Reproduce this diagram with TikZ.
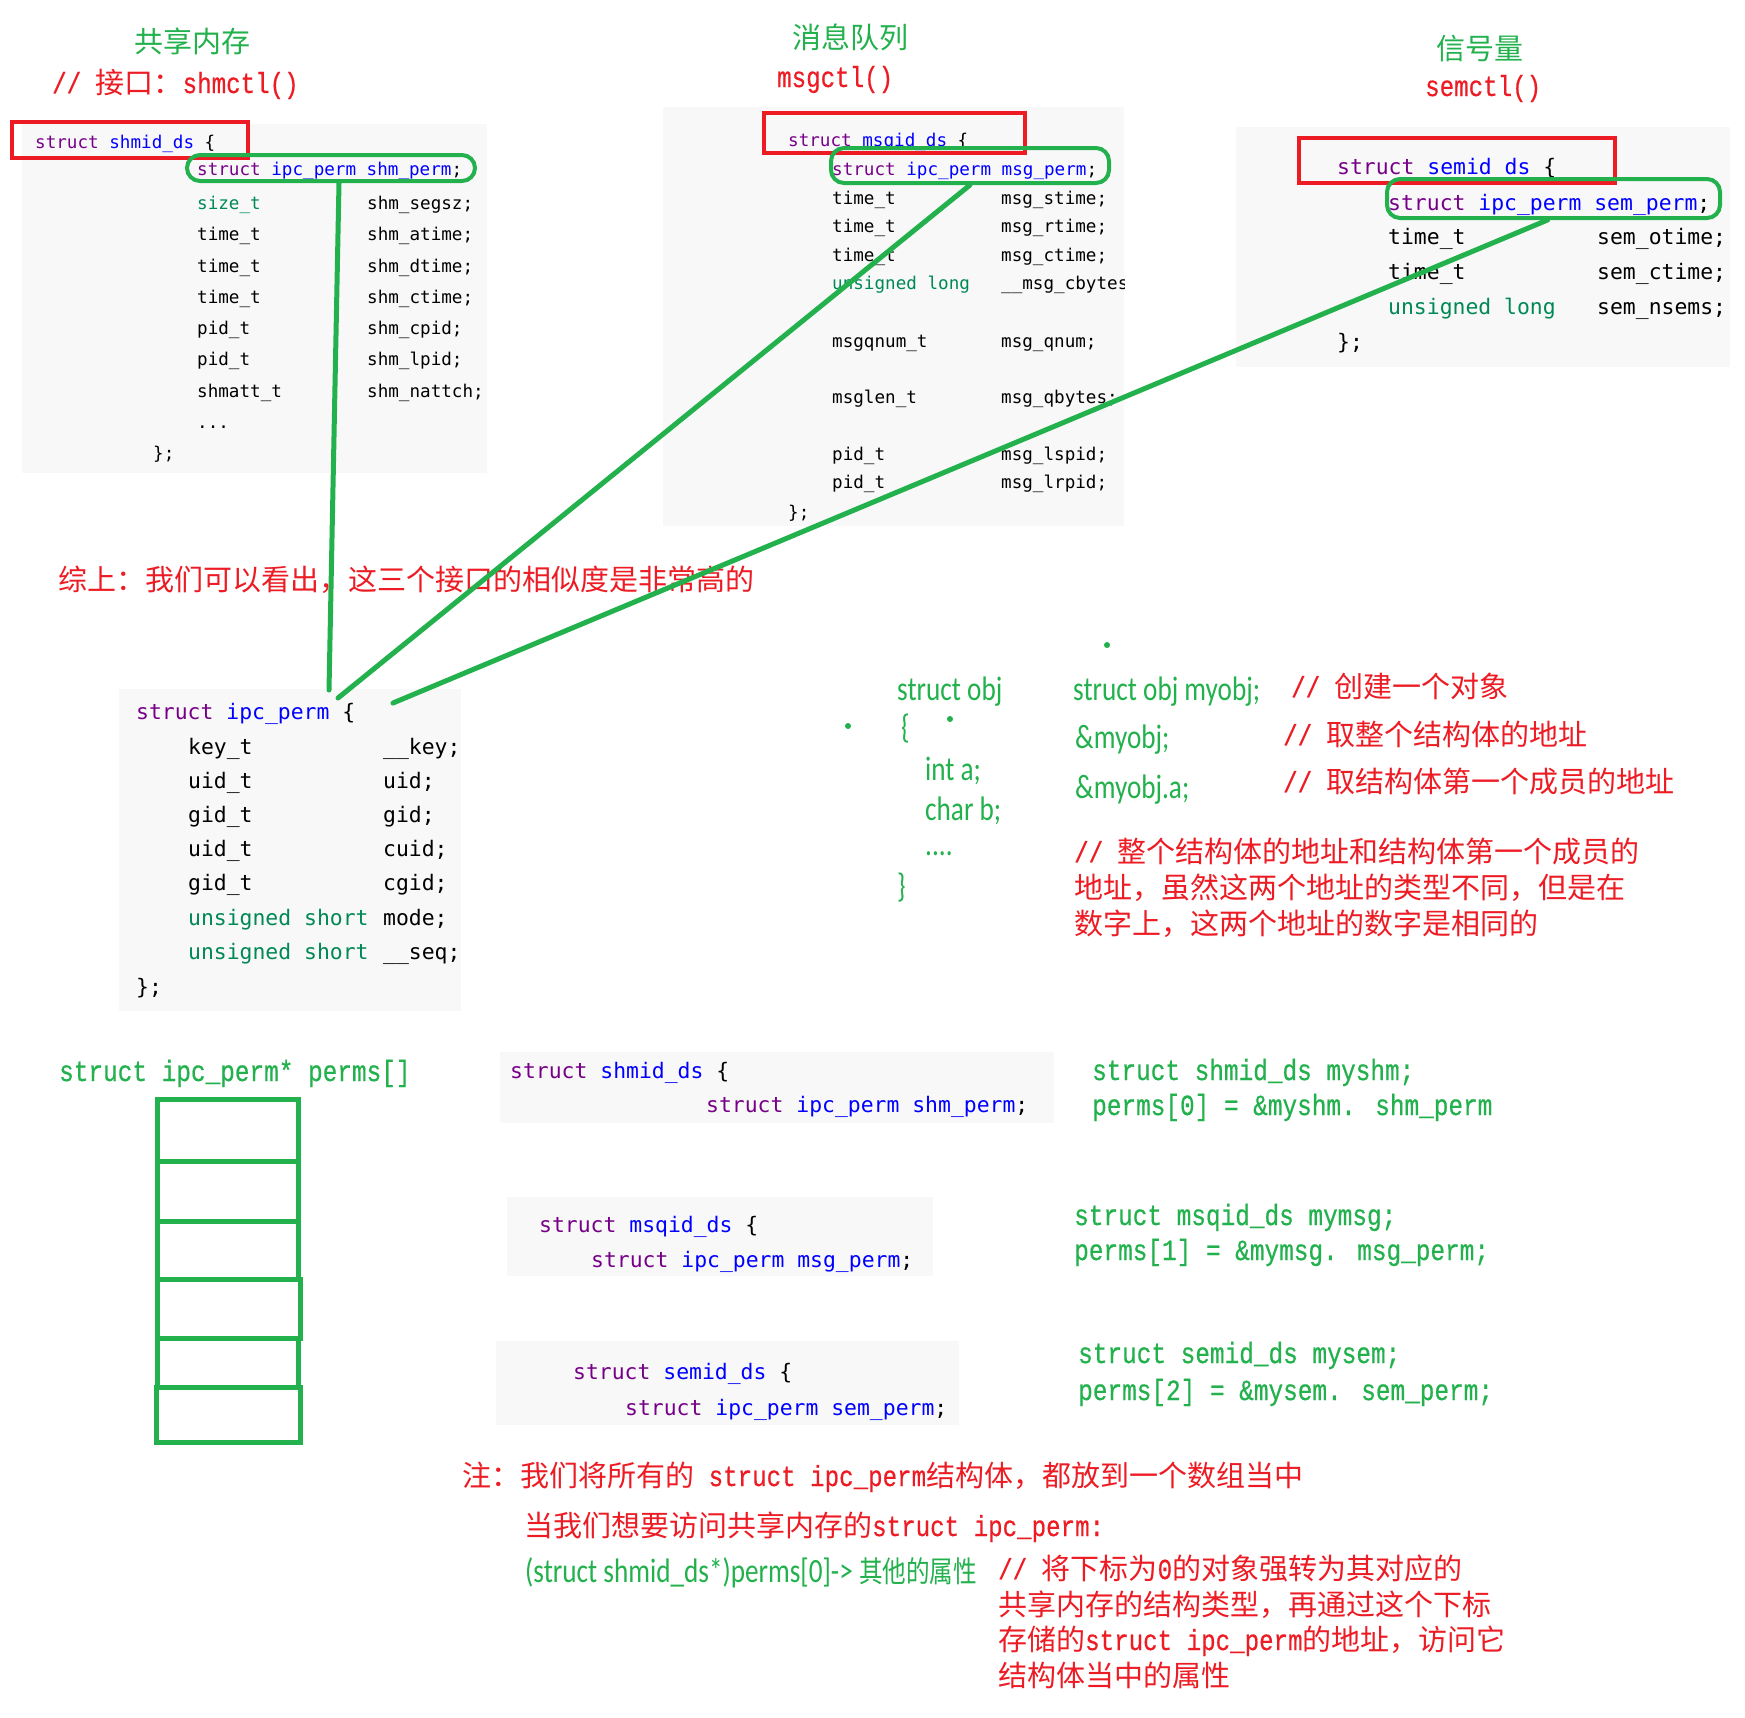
\documentclass[tikz,border=0pt]{standalone}
\usepackage{fontspec}
\usepackage{graphicx}
\usetikzlibrary{calc}
\newfontfamily\cjk{Noto Sans CJK SC}
\newfontfamily\smono{Liberation Mono}[Scale=0.833,FakeBold=0.5]
\newfontfamily\gmono{Liberation Mono}[FakeBold=0.6]
\newfontfamily\dmono{DejaVu Sans Mono}
\newfontfamily\carl{Carlito}
\definecolor{pgreen}{RGB}{34,177,76}
\definecolor{pred}{RGB}{237,28,36}
\definecolor{codebg}{RGB}{248,248,248}
\definecolor{kwc}{RGB}{119,0,136}
\definecolor{tyc}{RGB}{0,0,255}
\definecolor{tlcol}{RGB}{0,136,85}
\definecolor{txc}{RGB}{0,0,0}
\newcommand\ckw[1]{\textcolor{kwc}{#1}}
\newcommand\cty[1]{\textcolor{tyc}{#1}}
\newcommand\ctl[1]{\textcolor{tlcol}{#1}}
\newcommand\zhfont{\fontsize{29}{35}\cjk}
\newcommand\codeS{\fontsize{17.6}{21}\dmono}
\newcommand\codeL{\fontsize{21.4}{26}\dmono}
\newcommand\gmfont{\fontsize{24.4}{29}\gmono}
\newcommand\gmv[1]{\scalebox{1}[1.2]{#1}}
\newcommand\sm[1]{\scalebox{1}[1.2]{\smono #1}}
\newcommand\calib[1]{\scalebox{0.8}[1]{\fontsize{34}{40}\carl #1}}
\tikzset{
  txt/.style={inner sep=0pt, anchor=base west},
  redt/.style={txt, text=pred, font=\zhfont},
  grnt/.style={txt, text=pgreen, font=\zhfont},
  codes/.style={txt, text=txc, font=\codeS},
  codel/.style={txt, text=txc, font=\codeL},
  gmt/.style={txt, text=pgreen, font=\gmfont},
  calt/.style={txt, text=pgreen},
  redbox/.style={draw=pred, line width=4.5pt, inner sep=0pt},
  grnbox/.style={draw=pgreen, line width=4pt, rounded corners=13pt, inner sep=0pt},
  linkline/.style={draw=pgreen, line width=5pt, line cap=round},
  cellbox/.style={draw=pgreen, line width=5pt},
  bgfill/.style={fill=codebg},
}
\begin{document}
\begin{tikzpicture}[x=1pt,y=-1pt]
\fill[white] (0,0) rectangle (1745,1717);
\useasboundingbox (0,0) rectangle (1745,1717);

% ---------- top-left: shared memory ----------
\fill[bgfill] (22,124) rectangle (487,473);
\node[grnt] (tshm) at (134,52) {共享内存};
\node[redt] (ishm) at (52,93) {\sm{//\ }接口：\sm{shmctl()}};
\node[codes] (s0) at (35,148) {\ckw{struct} \cty{shmid\_ds} \{};
\node[codes] (s1) at (197,175.5) {\ckw{struct} \cty{ipc\_perm} \cty{shm\_perm};};
\node[codes] (s2a) at (197,209) {\ctl{size\_t}};
\node[codes] (s2b) at (367,209) {shm\_segsz;};
\node[codes] (s3a) at (197,240) {time\_t};
\node[codes] (s3b) at (367,240) {shm\_atime;};
\node[codes] (s4a) at (197,272) {time\_t};
\node[codes] (s4b) at (367,272) {shm\_dtime;};
\node[codes] (s5a) at (197,303) {time\_t};
\node[codes] (s5b) at (367,303) {shm\_ctime;};
\node[codes] (s6a) at (197,334) {pid\_t};
\node[codes] (s6b) at (367,334) {shm\_cpid;};
\node[codes] (s7a) at (197,365) {pid\_t};
\node[codes] (s7b) at (367,365) {shm\_lpid;};
\node[codes] (s8a) at (197,397) {shmatt\_t};
\node[codes] (s8b) at (367,397) {shm\_nattch;};
\node[codes] (s9) at (197,428) {...};
\node[codes] (s10) at (153,459) {\};};

% ---------- top-middle: message queue ----------
\fill[bgfill] (663,107) rectangle (1124,526);
\node[grnt] (tmsg) at (792,48) {消息队列};
\node[redt] (imsg) at (777,87) {\sm{msgctl()}};
\node[codes] (m0) at (788,146) {\ckw{struct} \cty{msqid\_ds} \{};
\node[codes] (m1) at (832,175) {\ckw{struct} \cty{ipc\_perm} \cty{msg\_perm};};
\node[codes] (m2a) at (832,204) {time\_t};
\node[codes] (m2b) at (1001,204) {msg\_stime;};
\node[codes] (m3a) at (832,232) {time\_t};
\node[codes] (m3b) at (1001,232) {msg\_rtime;};
\node[codes] (m4a) at (832,261) {time\_t};
\node[codes] (m4b) at (1001,261) {msg\_ctime;};
\node[codes] (m5a) at (832,289) {\ctl{unsigned long}};
\begin{scope}
\clip (663,107) rectangle (1124,526);
\node[codes] (m5b) at (1001,289) {\_\_msg\_cbytes;};
\end{scope}
\node[codes] (m6a) at (832,347) {msgqnum\_t};
\node[codes] (m6b) at (1001,347) {msg\_qnum;};
\node[codes] (m7a) at (832,403) {msglen\_t};
\node[codes] (m7b) at (1001,403) {msg\_qbytes;};
\node[codes] (m8a) at (832,460) {pid\_t};
\node[codes] (m8b) at (1001,460) {msg\_lspid;};
\node[codes] (m9a) at (832,488) {pid\_t};
\node[codes] (m9b) at (1001,488) {msg\_lrpid;};
\node[codes] (m10) at (788,518) {\};};

% ---------- top-right: semaphore ----------
\fill[bgfill] (1236,127) rectangle (1730,367);
\node[grnt] (tsem) at (1436,59) {信号量};
\node[redt] (isem) at (1425,96) {\sm{semctl()}};
\node[codel] (e0) at (1337,174.5) {\ckw{struct} \cty{semid\_ds} \{};
\node[codel] (e1) at (1388,210.5) {\ckw{struct} \cty{ipc\_perm} \cty{sem\_perm};};
\node[codel] (e2a) at (1388,244.5) {time\_t};
\node[codel] (e2b) at (1597,244.5) {sem\_otime;};
\node[codel] (e3a) at (1388,279.5) {time\_t};
\node[codel] (e3b) at (1597,279.5) {sem\_ctime;};
\node[codel] (e4a) at (1388,314.5) {\ctl{unsigned long}};
\node[codel] (e4b) at (1597,314.5) {sem\_nsems;};
\node[codel] (e5) at (1337,349.5) {\};};

% ---------- summary ----------
\node[redt] (summary) at (58,590) {综上：我们可以看出，这三个接口的相似度是非常高的};

% ---------- ipc_perm ----------
\fill[bgfill] (119,689) rectangle (461,1011);
\node[codel] (p0) at (136,719.5) {\ckw{struct} \cty{ipc\_perm} \{};
\node[codel] (p1a) at (188,754.5) {key\_t};
\node[codel] (p1b) at (383,754.5) {\_\_key;};
\node[codel] (p2a) at (188,788.5) {uid\_t};
\node[codel] (p2b) at (383,788.5) {uid;};
\node[codel] (p3a) at (188,822.5) {gid\_t};
\node[codel] (p3b) at (383,822.5) {gid;};
\node[codel] (p4a) at (188,856.5) {uid\_t};
\node[codel] (p4b) at (383,856.5) {cuid;};
\node[codel] (p5a) at (188,890.5) {gid\_t};
\node[codel] (p5b) at (383,890.5) {cgid;};
\node[codel] (p6a) at (188,925.5) {\ctl{unsigned short}};
\node[codel] (p6b) at (383,925.5) {mode;};
\node[codel] (p7a) at (188,959.5) {\ctl{unsigned short}};
\node[codel] (p7b) at (383,959.5) {\_\_seq;};
\node[codel] (p8) at (136,994.5) {\};};

% ---------- struct obj ----------
\fill[pgreen] (1107,645) circle (3pt);
\fill[pgreen] (848,726) circle (3pt);
\fill[pgreen] (950,719) circle (3pt);
\node[calt] (o1) at (897,700) {\calib{struct obj}};
\node[calt] (o2) at (901,738) {\calib{\{}};
\node[calt] (o3) at (925,780) {\calib{int a;}};
\node[calt] (o4) at (925,820) {\calib{char b;}};
\node[calt] (o5) at (925,855) {\calib{....}};
\node[calt] (o6) at (897,897) {\calib{\}}};
\node[calt] (o7) at (1073,700) {\calib{struct obj myobj;}};
\node[calt] (o8) at (1075,748) {\calib{\&myobj;}};
\node[calt] (o9) at (1075,798) {\calib{\&myobj.a;}};
\node[redt] (r1) at (1291,697) {\sm{//\ }创建一个对象};
\node[redt] (r2) at (1283,745) {\sm{//\ }取整个结构体的地址};
\node[redt] (r3) at (1283,792) {\sm{//\ }取结构体第一个成员的地址};
\node[redt] (r4) at (1074,862) {\sm{//\ }整个结构体的地址和结构体第一个成员的};
\node[redt] (r5) at (1074,898) {地址，虽然这两个地址的类型不同，但是在};
\node[redt] (r6) at (1074,934) {数字上，这两个地址的数字是相同的};

% ---------- perms array ----------
\node[gmt] (parr) at (59,1081) {\gmv{struct ipc\_perm* perms[]}};
\draw[cellbox] (157,1099) rectangle (298,1161);
\draw[cellbox] (157,1161) rectangle (298,1221);
\draw[cellbox] (157,1221) rectangle (298,1279);
\draw[cellbox] (157,1279) rectangle (300,1338);
\draw[cellbox] (157,1338) rectangle (298,1387);
\draw[cellbox] (156,1387) rectangle (300,1442);

% ---------- small code blocks ----------
\fill[bgfill] (500,1052) rectangle (1054,1123);
\node[codel] (b1a) at (510,1078.5) {\ckw{struct} \cty{shmid\_ds} \{};
\node[codel] (b1b) at (706,1112.5) {\ckw{struct} \cty{ipc\_perm} \cty{shm\_perm};};
\fill[bgfill] (507,1197) rectangle (933,1276);
\node[codel] (b2a) at (539,1232.5) {\ckw{struct} \cty{msqid\_ds} \{};
\node[codel] (b2b) at (591,1267.5) {\ckw{struct} \cty{ipc\_perm} \cty{msg\_perm};};
\fill[bgfill] (496,1341) rectangle (959,1425);
\node[codel] (b3a) at (573,1379.5) {\ckw{struct} \cty{semid\_ds} \{};
\node[codel] (b3b) at (625,1415.5) {\ckw{struct} \cty{ipc\_perm} \cty{sem\_perm};};

% ---------- green assignments ----------
\node[gmt] (g1) at (1092,1080) {\gmv{struct shmid\_ds myshm;}};
\node[gmt] (g2) at (1092,1115) {\gmv{perms[0] = \&myshm. shm\_perm}};
\node[gmt] (g3) at (1074,1225) {\gmv{struct msqid\_ds mymsg;}};
\node[gmt] (g4) at (1074,1260) {\gmv{perms[1] = \&mymsg. msg\_perm;}};
\node[gmt] (g5) at (1078,1363) {\gmv{struct semid\_ds mysem;}};
\node[gmt] (g6) at (1078,1400) {\gmv{perms[2] = \&mysem. sem\_perm;}};

% ---------- bottom notes ----------
\node[redt] (n1) at (462,1486) {注：我们将所有的\sm{\ struct ipc\_perm}结构体，都放到一个数组当中};
\node[redt] (n2) at (524,1536) {当我们想要访问共享内存的\sm{struct ipc\_perm:}};
\node[calt] (n3) at (525,1582) {\scalebox{0.8}[1]{\fontsize{34}{40}\carl (struct shmid\_ds*)perms[0]-> {\fontsize{29.5}{35}\cjk 其他的属性}}};
\node[redt] (n4) at (998,1579) {\sm{//\ }将下标为\sm{0}的对象强转为其对应的};
\node[redt] (n5) at (998,1615) {共享内存的结构类型，再通过这个下标};
\node[redt] (n6) at (998,1650) {存储的\sm{struct ipc\_perm}的地址，访问它};
\node[redt] (n7) at (998,1686) {结构体当中的属性};

% ---------- highlight boxes ----------
\node[redbox, minimum width=236pt, minimum height=36pt] (shmR) at (130,140) {};
\node[redbox, minimum width=261pt, minimum height=40pt] (msgR) at (894.5,133) {};
\node[redbox, minimum width=316pt, minimum height=45pt] (semR) at (1457,160.5) {};
\node[grnbox, minimum width=288pt, minimum height=26pt] (shmE) at (331,168) {};
\node[grnbox, minimum width=278pt, minimum height=35pt] (msgE) at (970,165.5) {};
\node[grnbox, minimum width=333pt, minimum height=39pt] (semE) at (1553.5,198.5) {};

% ---------- connectors ----------
\coordinate (end1) at (329,690);
\coordinate (end2) at (338,698);
\coordinate (end3) at (393,703);
\draw[linkline] ($(shmE.south)+(8,0)$) -- (end1);
\draw[linkline] (msgE.south) -- (end2);
\draw[linkline] ($(semE.south)+(-6,0)$) -- (end3);
\end{tikzpicture}
\end{document}
